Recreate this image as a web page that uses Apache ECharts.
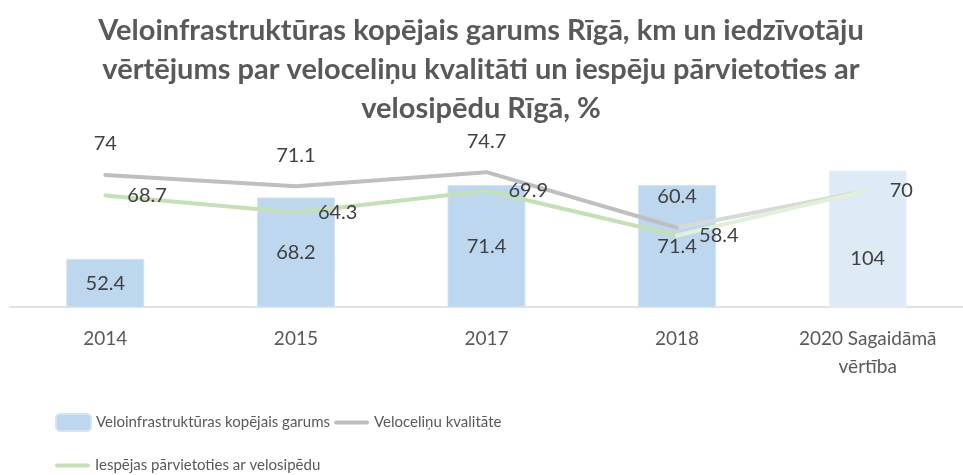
<!DOCTYPE html>
<html>
<head>
<meta charset="utf-8">
<script src="https://cdn.jsdelivr.net/npm/echarts@6/dist/echarts.min.js"></script>
<style>
  html, body { margin: 0; padding: 0; background: #fff; }
  #chart { width: 963px; height: 475px; }
</style>
</head>
<body>
<div id="chart"></div>
<script>
// gadi / kategorijas
const years = ['2014', '2015', '2017', '2018', '2020 Sagaidāmā\nvērtība'];
// km
const garums = [52.4, 68.2, 71.4, 71.4, 104];
// %
const kvalitate = [74, 71.1, 74.7, 60.4, 70];
const iespejas = [68.7, 64.3, 69.9, 58.4, 70];

const FONT = 'Lato';
const lastIdx = years.length - 1;
const LINE_ICON = 'path://M2,0H33A2,2 0 0 1 33,4H2A2,2 0 0 1 2,0Z';

// faktiskie dati līdz 2018, prognoze uz 2020 atsevišķi (gaišāka krāsa)
const fact = arr => arr.map((v, i) => (i < lastIdx ? v : '-'));
const plan = arr => arr.map((v, i) => (i >= lastIdx - 1 ? v : '-'));

const barData = garums.map((v, i) => {
  if (i === lastIdx) {
    return {
      value: v,
      itemStyle: { color: '#DEEBF7', borderColor: '#E9F1FA' },
      label: { offset: [0, 20] }
    };
  }
  return v;
});

const legendText = { fontFamily: FONT, fontSize: 15, color: '#595959' };

const chart = echarts.init(document.getElementById('chart'));

const option = {
  animation: false,
  textStyle: { fontFamily: FONT },
  graphic: [
    {
      type: 'text',
      x: 481,
      y: 11,
      style: {
        text: 'Veloinfrastruktūras kopējais garums Rīgā, km un iedzīvotāju\nvērtējums par veloceliņu kvalitāti un iespēju pārvietoties ar\nvelosipēdu Rīgā, %',
        align: 'center',
        verticalAlign: 'top',
        font: 'bold 29px Lato',
        lineHeight: 39,
        fill: '#595959'
      }
    }
  ],
  legend: [
    {
      data: [
        { name: 'Veloinfrastruktūras kopējais garums' },
        { name: 'Veloceliņu kvalitāte', icon: LINE_ICON }
      ],
      left: 55,
      top: 413,
      padding: 0,
      itemWidth: 35,
      itemHeight: 17,
      itemGap: 4,
      textStyle: legendText
    },
    {
      data: [{ name: 'Iespējas pārvietoties ar velosipēdu', icon: LINE_ICON }],
      left: 55,
      top: 458,
      padding: 0,
      itemWidth: 35,
      itemHeight: 17,
      itemGap: 4,
      textStyle: legendText
    }
  ],
  grid: {
    left: 10,
    right: -12,
    top: 171,
    bottom: 168
  },
  xAxis: {
    type: 'category',
    data: years,
    axisLine: { lineStyle: { color: '#D9D9D9', width: 1.5 } },
    axisTick: { show: false },
    axisLabel: {
      fontFamily: FONT,
      fontSize: 19,
      color: '#595959',
      margin: 18,
      lineHeight: 28
    }
  },
  yAxis: {
    type: 'value',
    min: 40,
    max: 75,
    show: false,
    splitLine: { show: false }
  },
  series: [
    {
      name: 'Veloinfrastruktūras kopējais garums',
      type: 'bar',
      data: barData,
      barWidth: 78,
      clip: true,
      itemStyle: { color: '#BDD7EE', borderColor: '#D3E4F4', borderWidth: 1 },
      label: {
        show: true,
        position: 'inside',
        fontFamily: FONT,
        fontSize: 20,
        color: '#404040'
      },
      z: 1
    },
    {
      name: 'Veloceliņu kvalitāte',
      type: 'line',
      data: fact(kvalitate),
      symbol: 'circle',
      symbolSize: 0,
      lineStyle: { color: '#BFBFBF', width: 4, cap: 'round', join: 'round' },
      itemStyle: { color: '#BFBFBF' },
      label: {
        show: true,
        position: 'top',
        distance: 21,
        fontFamily: FONT,
        fontSize: 20,
        color: '#404040'
      },
      z: 3
    },
    {
      name: 'Veloceliņu kvalitāte (plāns)',
      type: 'line',
      data: plan(kvalitate),
      symbol: 'none',
      lineStyle: { color: '#D9D9D9', width: 4, cap: 'round', join: 'round' },
      z: 2
    },
    {
      name: 'Iespējas pārvietoties ar velosipēdu',
      type: 'line',
      data: fact(iespejas),
      symbol: 'circle',
      symbolSize: 0,
      lineStyle: { color: '#C5E0B4', width: 4, cap: 'round', join: 'round' },
      itemStyle: { color: '#C5E0B4' },
      label: {
        show: true,
        position: 'right',
        distance: 22,
        fontFamily: FONT,
        fontSize: 20,
        color: '#404040'
      },
      z: 3
    },
    {
      name: 'Iespējas pārvietoties (plāns)',
      type: 'line',
      data: plan(iespejas),
      symbol: 'circle',
      symbolSize: 0,
      lineStyle: { color: '#E2F0D9', width: 4, cap: 'round', join: 'round' },
      itemStyle: { color: '#E2F0D9' },
      label: {
        show: true,
        position: 'right',
        distance: 22,
        fontFamily: FONT,
        fontSize: 20,
        color: '#404040',
        formatter: p => (p.dataIndex === lastIdx ? String(p.value) : '')
      },
      z: 3
    }
  ]
};

chart.setOption(option);
</script>
</body>
</html>
